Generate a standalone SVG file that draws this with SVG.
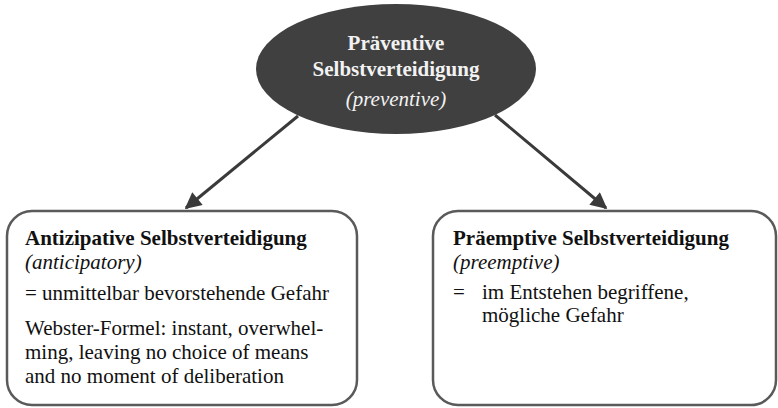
<svg xmlns="http://www.w3.org/2000/svg" width="778" height="408" viewBox="0 0 778 408">
<style>
  .t { font-family: "Liberation Serif", "Times New Roman", serif; font-size: 21px; fill: #111; }
  .b { font-weight: bold; }
  .i { font-style: italic; }
  .w { fill: #f2f2f2; }
  .box { fill: #ffffff; stroke: #5a5a5a; stroke-width: 2.5; }
  .conn { stroke: #3a3a3a; stroke-width: 3; fill: none; }
</style>
<defs>
  <marker id="ah" viewBox="0 0 10 10" refX="9" refY="5" markerWidth="6.5" markerHeight="5.5" markerUnits="strokeWidth" orient="auto">
    <path d="M0,0 L10,5 L0,10 z" fill="#3a3a3a"/>
  </marker>
</defs>
<rect width="778" height="408" fill="#ffffff"/>
<g id="connectors">
  <line class="conn" x1="298" y1="116" x2="186" y2="208" marker-end="url(#ah)"/>
  <line class="conn" x1="495" y1="115" x2="606" y2="208" marker-end="url(#ah)"/>
</g>
<g id="node-praeventive">
  <ellipse cx="396" cy="69" rx="140" ry="65" fill="#404040"/>
  <text class="t b w" x="396" y="50" text-anchor="middle">Präventive</text>
  <text class="t b w" x="396" y="76" text-anchor="middle">Selbstverteidigung</text>
  <text class="t i w" x="396" y="106" text-anchor="middle">(preventive)</text>
</g>
<g id="node-antizipative">
  <rect class="box" x="7" y="211" width="350" height="194" rx="25" ry="25"/>
  <text class="t b" x="25" y="245">Antizipative Selbstverteidigung</text>
  <text class="t i" x="25" y="269">(anticipatory)</text>
  <text class="t" x="25" y="300">= unmittelbar bevorstehende Gefahr</text>
  <text class="t" x="25" y="335">Webster-Formel: instant, overwhel-</text>
  <text class="t" x="25" y="359">ming, leaving no choice of means</text>
  <text class="t" x="25" y="383">and no moment of deliberation</text>
</g>
<g id="node-praeemptive">
  <rect class="box" x="433" y="211" width="343" height="194" rx="25" ry="25"/>
  <text class="t b" x="453" y="245">Präemptive Selbstverteidigung</text>
  <text class="t i" x="453" y="269">(preemptive)</text>
  <text class="t" x="453" y="299">=</text>
  <text class="t" x="482" y="299">im Entstehen begriffene,</text>
  <text class="t" x="482" y="322">mögliche Gefahr</text>
</g>
</svg>
